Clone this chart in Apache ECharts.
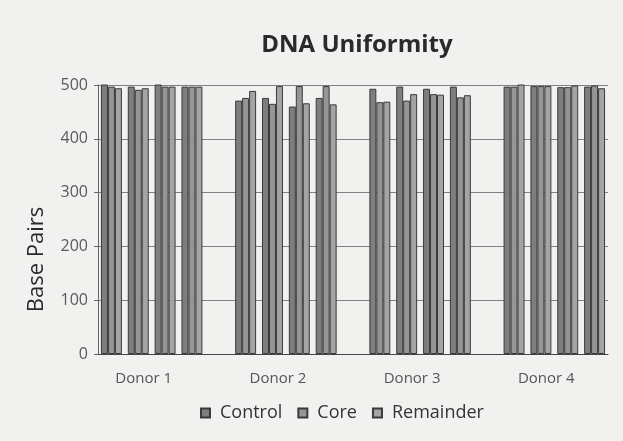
<!DOCTYPE html>
<html>
<head>
<meta charset="utf-8">
<script src="https://cdn.jsdelivr.net/npm/echarts@6/dist/echarts.min.js"></script>
<style>
html,body{margin:0;padding:0;background:#f1f1ef;}
#chart{width:623px;height:441px;}
</style>
</head>
<body>
<div id="chart"></div>
<script>
var donors = ['Donor 1', 'Donor 2', 'Donor 3', 'Donor 4'];
var seriesNames = ['Control', 'Core', 'Remainder'];
// 4 samples per donor, in donor order
var control   = [503, 497, 505, 497,  471, 476, 460, 476,  493, 497, 493, 497,  497, 498, 496, 497];
var core      = [497, 491, 497, 497,  476, 465, 498, 498,  468, 471, 483, 477,  497, 498, 496, 499];
var remainder = [494, 494, 497, 497,  489, 498, 466, 464,  469, 483, 482, 481,  503, 498, 499, 494];
var yTicks = [0, 100, 200, 300, 400, 500];

var samplesPerDonor = 4;
// build slot arrays: one empty slot between donors
function toSlots(arr) {
  var out = [];
  for (var d = 0; d < donors.length; d++) {
    if (d > 0) out.push(null);
    for (var s = 0; s < samplesPerDonor; s++) out.push(arr[d * samplesPerDonor + s]);
  }
  return out;
}
var slotCount = donors.length * samplesPerDonor + donors.length - 1;
var slotCats = [];
for (var i = 0; i < slotCount; i++) slotCats.push('s' + i);
// label axis with boundaryGap false: positions at slot edges
var labelCats = [];
for (var i = 0; i <= slotCount; i++) labelCats.push('');
for (var d = 0; d < donors.length; d++) {
  labelCats[d * (samplesPerDonor + 1) + samplesPerDonor / 2] = donors[d];
}

var fills = ['#7e7e7e', '#959595', '#a4a4a4'];
var datas = [control, core, remainder];
var font = 'Open Sans';

var chart = echarts.init(document.getElementById('chart'), null, {renderer: 'canvas'});
chart.setOption({
  backgroundColor: '#f1f1ef',
  animation: false,
  title: {
    text: 'DNA Uniformity',
    left: 352, top: 28, textAlign: 'center',
    textStyle: {fontFamily: font, fontSize: 24, fontWeight: 'bold', color: '#2a2a2a'}
  },
  legend: {
    data: seriesNames,
    left: 195, top: 399,
    itemWidth: 9, itemHeight: 9, itemGap: 15,
    icon: 'rect',
    textStyle: {fontFamily: font, fontSize: 18, color: '#333', padding: [0, 0, 0, 5]}
  },
  grid: {left: 98, right: 15, top: 85, bottom: 87},
  xAxis: [{
    type: 'category', data: slotCats, position: 'bottom',
    axisLine: {lineStyle: {color: '#444', width: 1}},
    axisTick: {show: false},
    axisLabel: {show: false}
  }, {
    type: 'category', data: labelCats, position: 'bottom', boundaryGap: false,
    axisLine: {show: false}, axisTick: {show: false},
    axisLabel: {interval: 0, margin: 17, fontFamily: font, fontSize: 15, color: '#555',
      padding: [0, 16, 0, 0]}
  }],
  yAxis: {
    type: 'value', min: 0, max: 500, interval: 100,
    name: 'Base Pairs', nameLocation: 'middle', nameGap: 50,
    nameTextStyle: {fontFamily: font, fontSize: 22, color: '#2a2a2a', padding: [0, 80, 0, 0]},
    axisLine: {show: true, lineStyle: {color: '#666'}},
    axisTick: {show: true, length: 4, lineStyle: {color: '#666'}},
    axisLabel: {fontFamily: font, fontSize: 16, color: '#5a5a5a', margin: 10,
      formatter: function (v) { return yTicks.indexOf(v) >= 0 ? String(v) : ''; }},
    splitLine: {lineStyle: {color: '#808080', width: 1}}
  },
  series: seriesNames.map(function (n, i) {
    return {
      name: n, type: 'bar', xAxisIndex: 0,
      data: toSlots(datas[i]),
      barGap: '0%', barCategoryGap: '22%',
      itemStyle: {color: fills[i], borderColor: '#3a3a3a', borderWidth: 1}
    };
  })
});
</script>
</body>
</html>
